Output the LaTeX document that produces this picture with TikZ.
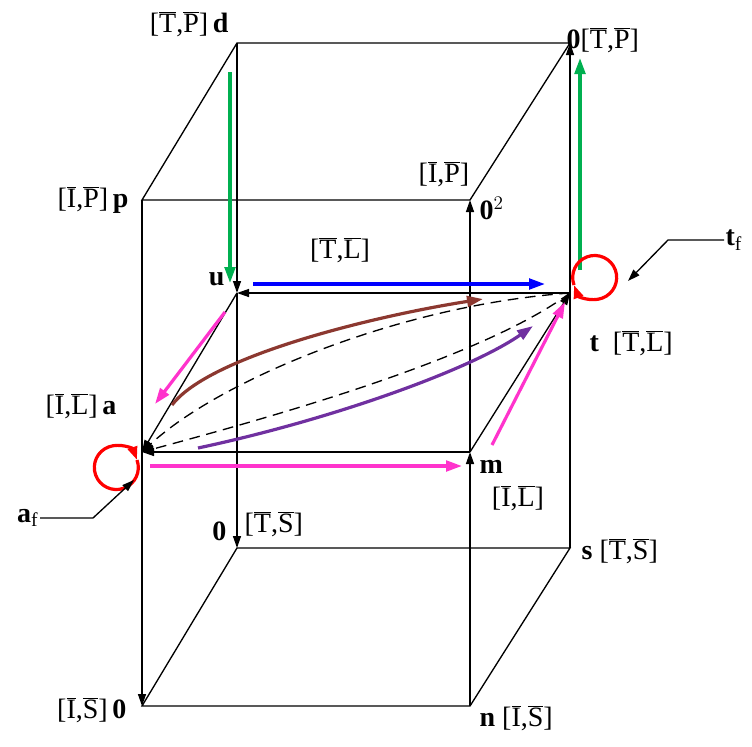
\documentclass[tikz,border=0pt]{standalone}
\usepackage{fontspec}
\setmainfont{Liberation Serif}
\usetikzlibrary{arrows.meta,positioning}
\newcommand{\ob}[1]{\mbox{$\overline{\mbox{#1}}$}}
\newcommand{\lab}[2]{[\ob{#1},\ob{#2}]}
\definecolor{pgreen}{RGB}{0,176,80}
\definecolor{pmagenta}{RGB}{255,51,204}
\definecolor{pbrown}{RGB}{140,56,48}
\definecolor{ppurple}{RGB}{112,48,160}
\tikzset{
	edge/.style={line width=1pt},
	tip/.style={-{Triangle[length=9pt,width=6pt]}},
	col/.style={line width=2.4pt, -{Triangle[length=12pt,width=8pt]}},
	txt/.style={inner sep=1pt, font=\fontsize{21}{23}\selectfont}
}
\begin{document}
\begin{tikzpicture}[x=0.75pt,y=-0.75pt]
	\useasboundingbox (0,0) rectangle (752,746);
	% Eckpunkte
	\coordinate (d) at (237,43);
	\coordinate (tp) at (570,43);
	\coordinate (p) at (142,200);
	\coordinate (o2) at (470,200);
	\coordinate (u) at (237,293);
	\coordinate (t) at (570,293);
	\coordinate (a) at (142,452);
	\coordinate (m) at (470,452);
	\coordinate (ts) at (237,548);
	\coordinate (s) at (570,548);
	\coordinate (is) at (142,706);
	\coordinate (n) at (470,706);
	% Wuerfel
	\draw[edge] (p) -- (d) -- (tp) -- (o2) -- cycle;
	\draw[edge] (ts) -- (s) -- (n) -- (is) -- cycle;
	\draw[edge, tip] (d) -- (u);
	\draw[edge, tip] (u) -- (ts);
	\draw[edge, tip] (p) -- (is);
	\draw[edge, tip] (n) -- (m);
	\draw[edge, tip] (m) -- (o2);
	\draw[edge, tip] (s) -- (tp);
	\draw[edge] (t) -- (s);
	% Mittelebene
	\draw[edge, tip] (t) -- (u);
	\draw[edge, tip] (m) -- (a);
	\draw[edge, tip] (u) -- (a);
	\draw[edge, tip] (m) -- (t);
	\draw[edge, dashed, dash pattern=on 8pt off 5pt, tip] (t) .. controls (400,305) and (220,380) .. (a);
	\draw[edge, dashed, dash pattern=on 8pt off 5pt, tip] (t) .. controls (480,360) and (260,420) .. (a);
	% Farbige Pfeile
	\draw[col, pgreen] (230,72) -- (230,283);
	\draw[col, pgreen] (580,270) -- (580,58);
	\draw[col, blue] (253,284) -- (545,284);
	\draw[col, pmagenta] (225,312) -- (155,404);
	\draw[col, pmagenta] (150,466) -- (462,466);
	\draw[col, pmagenta] (492,445) -- (565,302);
	\draw[col, pbrown] (172,405) .. controls (210,355) and (380,315) .. (483,299);
	\draw[col, ppurple] (198,448) .. controls (330,420) and (470,370) .. (533,326);
	% Schleifen
	\draw[line width=2.4pt, red, -{Triangle[length=10pt,width=7pt]}] (137,460) arc (-20:340:22) ;
	\draw[line width=2.4pt, red, -{Triangle[length=10pt,width=7pt]}] (574,285) arc (160:520:22);
	% Beschriftungen
	\node[txt, anchor=south east] (dl) at (230,38) {\lab{T}{P}\,\textbf{d}};
	\node[txt, anchor=south west] (tpl) at (565,54) {\textbf{0}\lab{T}{P}};
	\node[txt, anchor=south] (o2l) at (444,188) {\lab{I}{P}};
	\node[txt, anchor=west] (o2n) at (478,208) {\textbf{0}$^2$};
	\node[txt, anchor=east] (pl) at (130,200) {\lab{I}{P}\,\textbf{p}};
	\node[txt, anchor=east] (ul) at (226,279) {\textbf{u}};
	\node[txt] (tll) at (340,250) {\lab{T}{L}};
	\node[txt, anchor=west] (tl) at (588,343) {\textbf{t}\ \ \lab{T}{L}};
	\node[txt, anchor=east] (al) at (118,406) {\lab{I}{L}\,\textbf{a}};
	\node[txt, anchor=west] (ml) at (478,467) {\textbf{m}};
	\node[txt] (mll) at (518,498) {\lab{I}{L}};
	\node[txt, anchor=east] (tsn) at (228,531) {\textbf{0}};
	\node[txt, anchor=west] (tsl) at (243,524) {\lab{T}{S}};
	\node[txt, anchor=west] (sl) at (580,551) {\textbf{s} \lab{T}{S}};
	\node[txt, anchor=east] (isl) at (128,710) {\lab{I}{S}\,\textbf{0}};
	\node[txt, anchor=north west] (nl) at (478,704) {\textbf{n} \lab{I}{S}};
	\node[txt, anchor=west] (tf) at (724,240) {\textbf{t}$_{\mathrm{f}}$};
	\node[txt, anchor=east] (af) at (40,518) {\textbf{a}$_{\mathrm{f}}$};
	\coordinate (tfk) at (668,240);
	\coordinate (tfe) at (628,281);
	\coordinate (afk) at (93,518);
	\coordinate (afe) at (134,480);
	\draw[edge, tip] (tf.west) -- (tfk) -- (tfe);
	\draw[edge, tip] (af.east) -- (afk) -- (afe);
\end{tikzpicture}
\end{document}
